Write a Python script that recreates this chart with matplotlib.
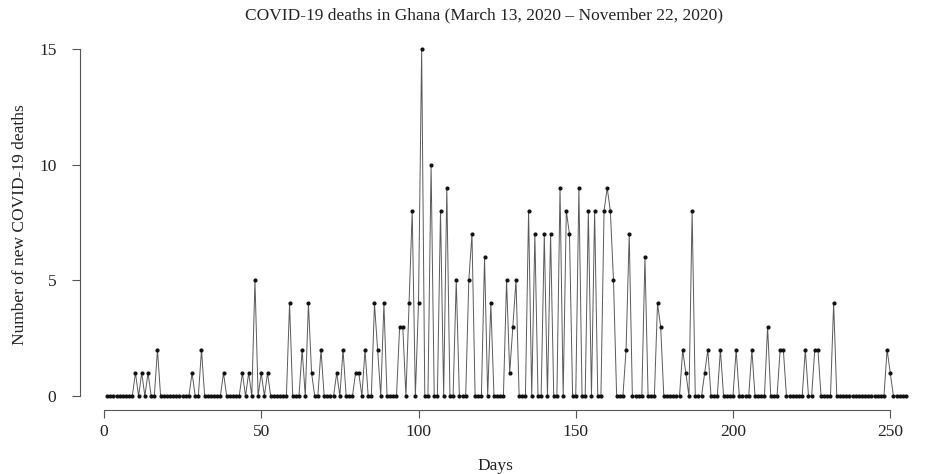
import numpy as np
import matplotlib
matplotlib.use("Agg")
import matplotlib.pyplot as plt

# Daily new COVID-19 deaths (day 1 .. 255)
nonzero_days = [10, 12, 14, 17, 28, 31, 38, 44, 46, 48, 50, 52, 59, 63, 65, 66, 69, 74, 76, 80,
                81, 83, 86, 87, 89, 94, 95, 97, 98, 100, 101, 104, 107, 109, 112, 116, 117, 121, 123, 128,
                129, 130, 131, 135, 137, 140, 142, 145, 147, 148, 151, 154, 156, 159, 160, 161, 162, 166, 167, 172,
                176, 177, 184, 185, 187, 191, 192, 196, 201, 206, 211, 215, 216, 223, 226, 227, 232, 249, 250]
nonzero_deaths = [1, 1, 1, 2, 1, 2, 1, 1, 1, 5, 1, 1, 4, 2, 4, 1, 2, 1, 2, 1,
                  1, 2, 4, 2, 4, 3, 3, 4, 8, 4, 15, 10, 8, 9, 5, 5, 7, 6, 4, 5,
                  1, 3, 5, 8, 7, 7, 7, 9, 8, 7, 9, 8, 8, 8, 9, 8, 5, 2, 7, 6,
                  4, 3, 2, 1, 8, 1, 2, 2, 2, 2, 3, 2, 2, 2, 2, 2, 4, 2, 1]
n_days = 255

days = np.arange(1, n_days + 1)
deaths = np.zeros(n_days)
for d, v in zip(nonzero_days, nonzero_deaths):
    deaths[d - 1] = v

x_ticks = [0, 50, 100, 150, 200, 250]
y_ticks = [0, 5, 10, 15]
title = "COVID-19 deaths in Ghana (March 13, 2020 \u2013 November 22, 2020)"

plt.rcParams['font.family'] = ['Liberation Serif', 'DejaVu Serif']

fig = plt.figure(figsize=(9.28, 4.74), dpi=100)
ax = fig.add_axes([80 / 928, (474 - 410) / 474, 830 / 928, 370 / 474])

ax.plot(days, deaths, color='#5a5a5a', linewidth=0.7, zorder=2)
ax.plot(days, deaths, linestyle='none', marker='o', markersize=2.0,
        color='#111111', zorder=3)

ax.set_xlim((80 - 104) / 3.145, (910 - 104) / 3.145)
ax.set_ylim(-(410 - 396) / 23.13, (396 - 40) / 23.13)

for s in ['top', 'right']:
    ax.spines[s].set_visible(False)
ax.spines['left'].set_bounds(0, 15)
ax.spines['bottom'].set_bounds(0, 250)
for s in ['left', 'bottom']:
    ax.spines[s].set_color('#555555')
    ax.spines[s].set_linewidth(0.8)

ax.set_xticks(x_ticks)
ax.set_yticks(y_ticks)
ax.tick_params(axis='both', direction='out', length=6, width=0.8,
               color='#555555', labelcolor='#222222', labelsize=12.5)
ax.tick_params(axis='x', pad=4)
ax.tick_params(axis='y', pad=11)

ax.set_xlabel("Days", fontsize=12.5, color='#222222', labelpad=13)
ax.set_ylabel("Number of new COVID-19 deaths", fontsize=12.5, color='#222222', labelpad=8)
fig.text(0.5 + 20 / 928, 1 - 15 / 474, title, ha='center', va='center',
         fontsize=12.5, color='#222222')

fig.savefig("out.png", dpi=100)
